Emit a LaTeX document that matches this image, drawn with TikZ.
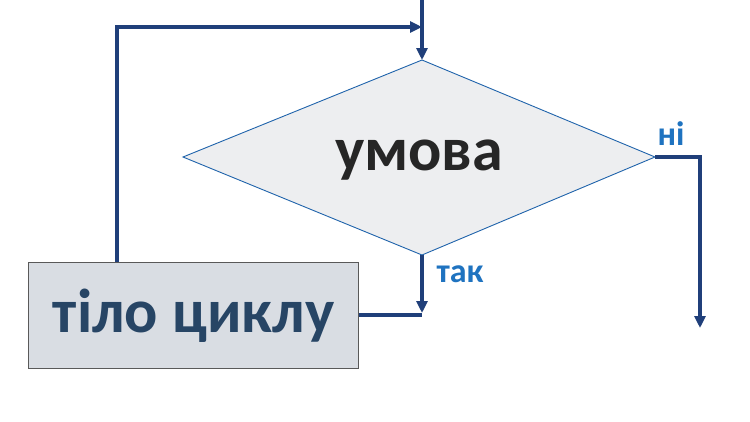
\documentclass[tikz,border=0pt]{standalone}
\usepackage{fontspec}
\setmainfont{Carlito}
\usetikzlibrary{arrows.meta}
\definecolor{navy}{HTML}{203F7A}
\definecolor{lbl}{HTML}{1F73C0}
\definecolor{boxfill}{HTML}{D9DDE3}
\definecolor{dfill}{HTML}{EDEEF0}
\definecolor{boxtext}{HTML}{274565}
\begin{document}
\begin{tikzpicture}[x=1pt,y=-1pt,
  flow/.style={draw=navy,line width=3.4pt,-{Triangle[length=12pt,width=11pt]}},
  plain/.style={draw=navy,line width=3.4pt},
  lab/.style={text=lbl,font=\bfseries\fontsize{34}{36}\selectfont}]
\useasboundingbox (0,0) rectangle (750,421);
\coordinate (dn) at (422,60);
\coordinate (ds) at (422,255);
\coordinate (dw) at (183,157);
\coordinate (de) at (655,157);
\draw[draw=lbl!70!navy,line width=0.9pt,fill=dfill] (dn) -- (de) -- (ds) -- (dw) -- cycle;
\node[font=\bfseries\fontsize{62}{66}\selectfont,text=black!85] (d) at (419,160) {умова};
\node[draw=gray!70!black,line width=1.2pt,fill=boxfill,minimum width=330pt,minimum height=106pt,anchor=north west,font=\bfseries\fontsize{62}{66}\selectfont,text=boxtext] (b) at (28,262) {тіло циклу};
\coordinate (top) at (422,0);
\coordinate (l1) at (117,27);
\coordinate (l2) at (422,27);
\coordinate (r1) at (700,157);
\coordinate (r2) at (700,328);
\coordinate (j) at (422,315);
\coordinate (jd) at (422,313);
\draw[flow] (top) -- (dn);
\draw[flow] (b.north west -| l1) -- (l1) -- (l2);
\draw[flow] (ds) -- (jd);
\draw[flow] (de) -- (r1) -- (r2);
\draw[plain] (b.east |- j) -- (j);
\node[lab] (ni) at (671,134) {ні};
\node[lab] (tak) at (460,274) {так};
\end{tikzpicture}
\end{document}
